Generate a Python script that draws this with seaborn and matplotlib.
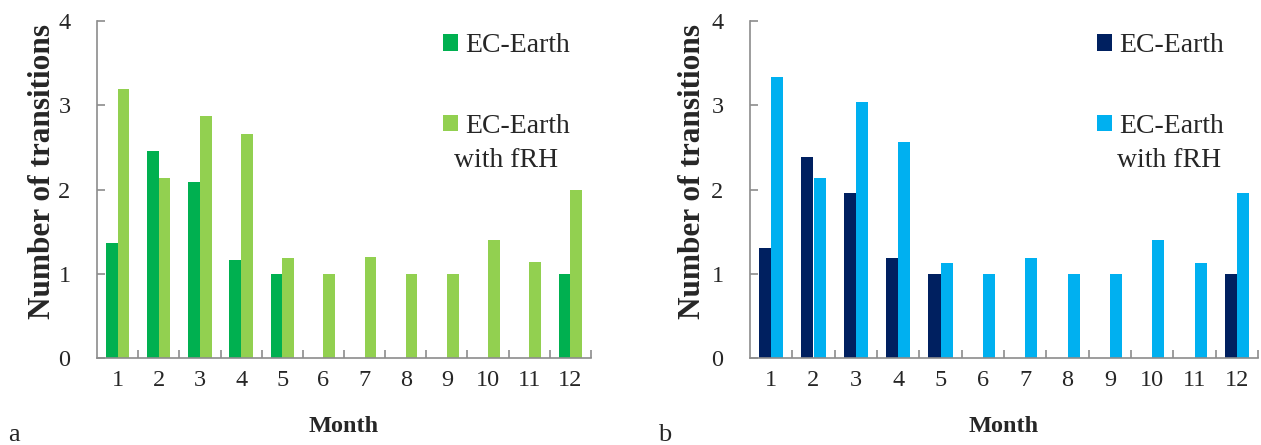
import numpy as np
import pandas as pd
import matplotlib
matplotlib.use("Agg")
import matplotlib.pyplot as plt
import seaborn as sns
from matplotlib.patches import Patch
from matplotlib.ticker import MultipleLocator

months = list(range(1, 13))
series_names = ["EC-Earth", "EC-Earth with fRH"]
legend_labels = ["EC-Earth", "EC-Earth"]
legend_extra = "with fRH"

a_ec = [1.36, 2.46, 2.09, 1.16, 1.0, 0, 0, 0, 0, 0, 0, 1.0]
a_frh = [3.19, 2.14, 2.87, 2.66, 1.19, 1.0, 1.2, 1.0, 1.0, 1.4, 1.14, 2.0]
b_ec = [1.31, 2.38, 1.96, 1.19, 1.0, 0, 0, 0, 0, 0, 0, 1.0]
b_frh = [3.33, 2.14, 3.04, 2.56, 1.13, 1.0, 1.19, 1.0, 1.0, 1.4, 1.13, 1.96]

colors_a = ["#00B050", "#92D050"]
colors_b = ["#002060", "#00B0F0"]

sns.set_theme(style="white")
plt.rcParams['font.family'] = ['Liberation Serif', 'DejaVu Serif']

W, H = 1261, 445
fig = plt.figure(figsize=(W / 100, H / 100), dpi=100)
ax_a = fig.add_axes([97 / W, 87 / H, 494 / W, 337 / H])
ax_b = fig.add_axes([750 / W, 87 / H, 508 / W, 337 / H])

def make_df(ec, frh):
    return pd.DataFrame({
        "Month": [str(m) for m in months] * 2,
        "value": list(ec) + list(frh),
        "series": [series_names[0]] * 12 + [series_names[1]] * 12,
    })

gray = "#8c8c8c"
for ax, ec, frh, cols, letter, lx, legx, extx, ylx in [
    (ax_a, a_ec, a_frh, colors_a, "a", 8, 0.700, 0.828, -0.081),
    (ax_b, b_ec, b_frh, colors_b, "b", 658, 0.683, 0.825, -0.085),
]:
    df = make_df(ec, frh)
    sns.barplot(data=df, x="Month", y="value", hue="series", palette=cols,
                saturation=1, width=0.57, gap=0, linewidth=0, ax=ax,
                legend=False, errorbar=None)
    ax.set_ylim(0, 4)
    ax.set_xlim(-0.5, 11.5)
    ax.yaxis.set_major_locator(MultipleLocator(1))
    ax.set_xlabel("Month", fontsize=17.5, fontweight="bold", labelpad=18)
    ax.set_ylabel("Number of transitions", fontsize=22.5, fontweight="bold")
    ax.yaxis.set_label_coords(ylx, 0.552)
    for s in ["top", "right"]:
        ax.spines[s].set_visible(False)
    for s in ["left", "bottom"]:
        ax.spines[s].set_color(gray)
        ax.spines[s].set_linewidth(1.2)
    ax.tick_params(axis="y", which="major", direction="in", length=6, width=1.2,
                   color=gray, labelsize=17.5, pad=19, left=True)
    ax.tick_params(axis="x", which="major", length=0, labelsize=17.5, pad=9)
    ax.set_xticks(np.arange(0.5, 12, 1), minor=True)
    ax.tick_params(axis="x", which="minor", direction="in", length=6, width=1.2,
                   color=gray, bottom=True)
    handles = [Patch(facecolor=c, edgecolor="none") for c in cols]
    ax.legend(handles, legend_labels, loc="upper left", bbox_to_anchor=(legx, 0.963),
              frameon=False, fontsize=20, handlelength=0.54, handleheight=0.54,
              handletextpad=0.25, labelspacing=2.0, borderaxespad=0, borderpad=0)
    ax.text(extx, 0.5875, legend_extra, transform=ax.transAxes, fontsize=20,
            ha="center", va="center")
    fig.text(lx / W, 1 - 441 / H, letter, fontsize=19, ha="left", va="baseline")

fig.savefig("out.png", dpi=100)
